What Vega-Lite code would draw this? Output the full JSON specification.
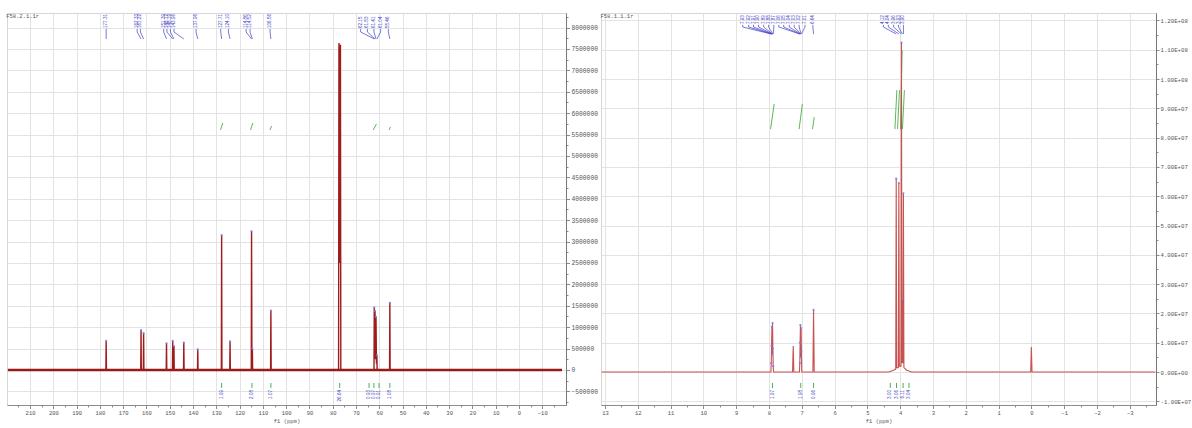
{
  "$schema": "https://vega.github.io/schema/vega-lite/v6.json",
  "background": "white",
  "padding": {"left": 4, "top": 12, "right": 0, "bottom": 0},
  "autosize": {"type": "pad"},
  "spacing": 35,
  "bounds": "flush",
  "config": {
    "view": {"stroke": "#d6d6d6", "strokeWidth": 1},
    "axis": {"labelFont": "Liberation Mono", "titleFont": "Liberation Mono", "labelColor": "#555555", "titleColor": "#555555", "titleFontWeight": "normal", "domainColor": "#8c8c8c", "tickColor": "#8c8c8c", "gridColor": "#e3e3e3", "gridWidth": 1, "labelOverlap": false, "labelFlush": false, "labelFontSize": 5.5, "titleFontSize": 5.5, "tickCount": 200},
    "text": {"font": "Liberation Sans"}
  },
  "datasets": {
    "c13": [
      {"ppm": 219.5, "i": 0},
      {"ppm": 177.43, "i": 0}, {"ppm": 177.31, "i": 680000}, {"ppm": 177.19, "i": 0},
      {"ppm": 162.45, "i": 0}, {"ppm": 162.33, "i": 930000}, {"ppm": 162.21, "i": 0},
      {"ppm": 161.34, "i": 0}, {"ppm": 161.22, "i": 860000}, {"ppm": 161.10, "i": 0},
      {"ppm": 151.51, "i": 0}, {"ppm": 151.39, "i": 620000}, {"ppm": 151.27, "i": 0},
      {"ppm": 148.84, "i": 0}, {"ppm": 148.72, "i": 680000}, {"ppm": 148.60, "i": 0},
      {"ppm": 148.31, "i": 0}, {"ppm": 148.19, "i": 560000}, {"ppm": 148.07, "i": 0},
      {"ppm": 144.08, "i": 0}, {"ppm": 143.96, "i": 640000}, {"ppm": 143.84, "i": 0},
      {"ppm": 138.08, "i": 0}, {"ppm": 137.96, "i": 480000}, {"ppm": 137.84, "i": 0},
      {"ppm": 127.83, "i": 0}, {"ppm": 127.71, "i": 3150000}, {"ppm": 127.59, "i": 0},
      {"ppm": 124.22, "i": 0}, {"ppm": 124.10, "i": 670000}, {"ppm": 123.98, "i": 0},
      {"ppm": 114.98, "i": 0}, {"ppm": 114.86, "i": 3240000}, {"ppm": 114.70, "i": 100000}, {"ppm": 114.52, "i": 500000}, {"ppm": 114.40, "i": 0},
      {"ppm": 106.68, "i": 0}, {"ppm": 106.56, "i": 1390000}, {"ppm": 106.44, "i": 0},
      {"ppm": 77.48, "i": 0}, {"ppm": 77.32, "i": 7640000}, {"ppm": 77.16, "i": 2500000}, {"ppm": 77.00, "i": 7550000}, {"ppm": 76.84, "i": 2500000}, {"ppm": 76.68, "i": 7600000}, {"ppm": 76.52, "i": 0},
      {"ppm": 62.27, "i": 0}, {"ppm": 62.15, "i": 1460000}, {"ppm": 61.99, "i": 300000}, {"ppm": 61.83, "i": 1380000}, {"ppm": 61.62, "i": 250000}, {"ppm": 61.41, "i": 1240000}, {"ppm": 61.22, "i": 150000}, {"ppm": 61.04, "i": 350000}, {"ppm": 60.92, "i": 0},
      {"ppm": 55.58, "i": 0}, {"ppm": 55.46, "i": 1570000}, {"ppm": 55.34, "i": 0},
      {"ppm": -18.5, "i": 0}
    ],
    "c13lab": [
      {"lab": "177.31", "lx": 177.3, "px": 177.31, "h": 680000},
      {"lab": "162.33", "lx": 164.0, "px": 162.33, "h": 930000},
      {"lab": "161.22", "lx": 162.6, "px": 161.22, "h": 860000},
      {"lab": "151.39", "lx": 152.6, "px": 151.39, "h": 620000},
      {"lab": "148.72", "lx": 151.2, "px": 148.72, "h": 680000},
      {"lab": "148.19", "lx": 149.7, "px": 148.19, "h": 560000},
      {"lab": "143.96", "lx": 148.2, "px": 143.96, "h": 640000},
      {"lab": "137.96", "lx": 138.7, "px": 137.96, "h": 480000},
      {"lab": "127.71", "lx": 128.1, "px": 127.71, "h": 3150000},
      {"lab": "124.10", "lx": 124.8, "px": 124.10, "h": 670000},
      {"lab": "114.86", "lx": 117.2, "px": 114.86, "h": 3240000},
      {"lab": "114.52", "lx": 115.5, "px": 114.52, "h": 500000},
      {"lab": "106.56", "lx": 106.9, "px": 106.56, "h": 1390000},
      {"lab": "62.15", "lx": 68.0, "px": 62.15, "h": 1460000},
      {"lab": "61.83", "lx": 65.1, "px": 61.83, "h": 1380000},
      {"lab": "61.41", "lx": 62.3, "px": 61.41, "h": 1240000},
      {"lab": "61.04", "lx": 59.4, "px": 61.04, "h": 350000},
      {"lab": "55.46", "lx": 56.1, "px": 55.46, "h": 1570000}
    ],
    "c13curve": [
      {"a": 128.2, "b": 127.2, "y1": 5607000, "y2": 5771000},
      {"a": 115.3, "b": 114.3, "y1": 5607000, "y2": 5771000},
      {"a": 107.0, "b": 106.2, "y1": 5607000, "y2": 5700000},
      {"a": 77.2, "b": 76.8, "y1": 5607000, "y2": 7600000},
      {"a": 62.6, "b": 61.2, "y1": 5607000, "y2": 5750000},
      {"a": 55.8, "b": 55.2, "y1": 5607000, "y2": 5680000}
    ],
    "c13itg": [
      {"lab": "1.99", "ppm": 127.71},
      {"lab": "2.08", "ppm": 114.7},
      {"lab": "1.07", "ppm": 106.56},
      {"lab": "26.64", "ppm": 77.0},
      {"lab": "0.93", "ppm": 64.4},
      {"lab": "0.97", "ppm": 62.3},
      {"lab": "0.91", "ppm": 60.1},
      {"lab": "1.08", "ppm": 55.46}
    ],
    "h1": [
      {"ppm": 13.1, "i": 0},
      {"ppm": 7.94, "i": 0}, {"ppm": 7.93, "i": 3000000}, {"ppm": 7.92, "i": 9000000}, {"ppm": 7.91, "i": 15500000}, {"ppm": 7.90, "i": 6000000}, {"ppm": 7.89, "i": 16700000}, {"ppm": 7.88, "i": 8000000}, {"ppm": 7.87, "i": 2000000}, {"ppm": 7.86, "i": 0},
      {"ppm": 7.28, "i": 0}, {"ppm": 7.26, "i": 8900000}, {"ppm": 7.24, "i": 0},
      {"ppm": 7.07, "i": 0}, {"ppm": 7.06, "i": 3000000}, {"ppm": 7.05, "i": 10000000}, {"ppm": 7.04, "i": 16000000}, {"ppm": 7.03, "i": 5000000}, {"ppm": 7.02, "i": 15000000}, {"ppm": 7.01, "i": 7000000}, {"ppm": 7.00, "i": 0},
      {"ppm": 6.66, "i": 0}, {"ppm": 6.64, "i": 21200000}, {"ppm": 6.62, "i": 0},
      {"ppm": 4.35, "i": 0}, {"ppm": 4.2, "i": 600000}, {"ppm": 4.135, "i": 1000000}, {"ppm": 4.12, "i": 66000000}, {"ppm": 4.105, "i": 1500000}, {"ppm": 4.055, "i": 1500000}, {"ppm": 4.04, "i": 64500000}, {"ppm": 4.025, "i": 2000000}, {"ppm": 3.975, "i": 2000000}, {"ppm": 3.96, "i": 112400000}, {"ppm": 3.945, "i": 3000000}, {"ppm": 3.93, "i": 25000000}, {"ppm": 3.915, "i": 3000000}, {"ppm": 3.90, "i": 61000000}, {"ppm": 3.885, "i": 1500000}, {"ppm": 3.8, "i": 600000}, {"ppm": 3.65, "i": 0},
      {"ppm": 0.02, "i": 0}, {"ppm": 0.0, "i": 8500000}, {"ppm": -0.02, "i": 0},
      {"ppm": -3.78, "i": 0}
    ],
    "h1lab": [
      {"lab": "7.93", "lx": 8.80, "px": 7.93, "h": 3000000},
      {"lab": "7.92", "lx": 8.62, "px": 7.92, "h": 9000000},
      {"lab": "7.91", "lx": 8.47, "px": 7.91, "h": 15500000},
      {"lab": "7.90", "lx": 8.32, "px": 7.90, "h": 6000000},
      {"lab": "7.89", "lx": 8.16, "px": 7.89, "h": 16700000},
      {"lab": "7.88", "lx": 8.01, "px": 7.88, "h": 8000000},
      {"lab": "7.87", "lx": 7.85, "px": 7.87, "h": 2000000},
      {"lab": "7.06", "lx": 7.70, "px": 7.06, "h": 3000000},
      {"lab": "7.05", "lx": 7.55, "px": 7.05, "h": 10000000},
      {"lab": "7.04", "lx": 7.38, "px": 7.04, "h": 16000000},
      {"lab": "7.03", "lx": 7.23, "px": 7.03, "h": 5000000},
      {"lab": "7.02", "lx": 7.08, "px": 7.02, "h": 15000000},
      {"lab": "7.01", "lx": 6.90, "px": 7.01, "h": 7000000},
      {"lab": "6.64", "lx": 6.66, "px": 6.64, "h": 21200000},
      {"lab": "4.12", "lx": 4.51, "px": 4.12, "h": 66000000},
      {"lab": "4.04", "lx": 4.36, "px": 4.04, "h": 64500000},
      {"lab": "3.96", "lx": 4.20, "px": 3.96, "h": 112400000},
      {"lab": "3.93", "lx": 4.05, "px": 3.93, "h": 25000000},
      {"lab": "3.90", "lx": 3.90, "px": 3.90, "h": 61000000}
    ],
    "h1curve": [
      {"a": 7.95, "b": 7.84, "y1": 82900000, "y2": 91500000},
      {"a": 7.08, "b": 6.98, "y1": 82900000, "y2": 91500000},
      {"a": 6.67, "b": 6.62, "y1": 82900000, "y2": 87000000},
      {"a": 4.16, "b": 4.10, "y1": 82900000, "y2": 96200000},
      {"a": 4.08, "b": 4.02, "y1": 82900000, "y2": 96200000},
      {"a": 3.99, "b": 3.94, "y1": 82900000, "y2": 109900000},
      {"a": 3.93, "b": 3.87, "y1": 82900000, "y2": 96200000}
    ],
    "h1itg": [
      {"lab": "1.97", "ppm": 7.89},
      {"lab": "1.98", "ppm": 7.03},
      {"lab": "0.96", "ppm": 6.64},
      {"lab": "3.00", "ppm": 4.30},
      {"lab": "3.06", "ppm": 4.11},
      {"lab": "6.11", "ppm": 3.91},
      {"lab": "3.04", "ppm": 3.73}
    ]
  },
  "hconcat": [
    {
      "width": 559,
      "height": 392,
      "title": {"text": "F58.2.1.1r", "anchor": "start", "offset": -6, "dx": 1, "fontSize": 5.5, "font": "Liberation Mono", "fontWeight": "normal", "color": "#555555"},
      "layer": [
        {
          "data": {"name": "c13curve"},
          "mark": {"type": "rule", "color": "#5cb85c", "strokeWidth": 1},
          "encoding": {
            "x": {"field": "a", "type": "quantitative", "scale": {"domain": [-20.2, 219.9], "reverse": true, "nice": false, "zero": false},
              "axis": {"title": "f1 (ppm)", "format": "d", "tickCount": 200, "values": [215, 210, 205, 200, 195, 190, 185, 180, 175, 170, 165, 160, 155, 150, 145, 140, 135, 130, 125, 120, 115, 110, 105, 100, 95, 90, 85, 80, 75, 70, 65, 60, 55, 50, 45, 40, 35, 30, 25, 20, 15, 10, 5, 0, -5, -10, -15],
                "grid": true, "gridOpacity": {"condition": {"test": "datum.value % 10 === 0", "value": 1}, "value": 0},
                "tickSize": {"condition": {"test": "datum.value % 10 === 0", "value": 3.5}, "value": 2},
                "labelExpr": "datum.value % 10 === 0 ? datum.label : ''", "labelPadding": 1.5, "titlePadding": 3}},
            "x2": {"field": "b"},
            "y": {"field": "y1", "type": "quantitative", "scale": {"domain": [-818000, 8341000], "nice": false, "zero": false},
              "axis": {"orient": "right", "title": null, "format": "d", "tickCount": 200, "values": [-750000, -500000, -250000, 0, 250000, 500000, 750000, 1000000, 1250000, 1500000, 1750000, 2000000, 2250000, 2500000, 2750000, 3000000, 3250000, 3500000, 3750000, 4000000, 4250000, 4500000, 4750000, 5000000, 5250000, 5500000, 5750000, 6000000, 6250000, 6500000, 6750000, 7000000, 7250000, 7500000, 7750000, 8000000, 8250000],
                "grid": true, "gridOpacity": {"condition": {"test": "datum.value % 500000 === 0", "value": 1}, "value": 0},
                "tickSize": {"condition": {"test": "datum.value % 500000 === 0", "value": 3.5}, "value": 2},
                "labelExpr": "datum.value % 500000 === 0 ? datum.label : ''", "labelFontSize": 6.3, "labelPadding": 1.5, "domainColor": "#777777"}},
            "y2": {"field": "y2"}
          }
        },
        {
          "data": {"values": [{}]},
          "mark": {"type": "rule", "color": "#8f1717", "strokeWidth": 2.6},
          "encoding": {
            "x": {"datum": 219.5, "type": "quantitative"},
            "x2": {"datum": -18.5},
            "y": {"datum": 0, "type": "quantitative"}
          }
        },
        {
          "data": {"name": "c13"},
          "mark": {"type": "line", "color": "#9e1c1c", "strokeWidth": 1.4},
          "encoding": {
            "x": {"field": "ppm", "type": "quantitative"},
            "y": {"field": "i", "type": "quantitative"}
          }
        },
        {
          "data": {"name": "c13lab"},
          "mark": {"type": "point", "filled": true, "size": 5, "color": "#7c7ce6", "opacity": 0.9},
          "encoding": {
            "x": {"field": "px", "type": "quantitative"},
            "y": {"field": "h", "type": "quantitative"}
          }
        },
        {
          "data": {"name": "c13lab"},
          "mark": {"type": "text", "angle": 270, "align": "left", "baseline": "middle", "fontSize": 4.6, "color": "#4141c4"},
          "encoding": {
            "x": {"field": "lx", "type": "quantitative"},
            "y": {"datum": 7990000, "type": "quantitative"},
            "text": {"field": "lab"}
          }
        },
        {
          "data": {"name": "c13lab"},
          "mark": {"type": "rule", "color": "#4141c4", "strokeWidth": 0.7},
          "encoding": {
            "x": {"field": "lx", "type": "quantitative"},
            "y": {"datum": 7970000, "type": "quantitative"},
            "y2": {"datum": 7897000}
          }
        },
        {
          "data": {"name": "c13lab"},
          "mark": {"type": "rule", "color": "#4141c4", "strokeWidth": 0.7},
          "encoding": {
            "x": {"field": "lx", "type": "quantitative"},
            "x2": {"field": "px"},
            "y": {"datum": 7897000, "type": "quantitative"},
            "y2": {"datum": 7734000}
          }
        },
        {
          "data": {"name": "c13itg"},
          "mark": {"type": "rule", "color": "#4caf50", "strokeWidth": 1},
          "encoding": {
            "x": {"field": "ppm", "type": "quantitative"},
            "y": {"datum": -304000, "type": "quantitative"},
            "y2": {"datum": -420000}
          }
        },
        {
          "data": {"name": "c13itg"},
          "mark": {"type": "text", "angle": 270, "align": "right", "baseline": "middle", "fontSize": 4.6, "color": "#4141c4"},
          "encoding": {
            "x": {"field": "ppm", "type": "quantitative"},
            "y": {"datum": -467000, "type": "quantitative"},
            "text": {"field": "lab"}
          }
        }
      ]
    },
    {
      "width": 555,
      "height": 392,
      "title": {"text": "F58.1.1.1r", "anchor": "start", "offset": -6, "dx": 1, "fontSize": 5.5, "font": "Liberation Mono", "fontWeight": "normal", "color": "#555555"},
      "layer": [
        {
          "data": {"name": "h1curve"},
          "mark": {"type": "rule", "color": "#5cb85c", "strokeWidth": 1},
          "encoding": {
            "x": {"field": "a", "type": "quantitative", "scale": {"domain": [-3.8, 13.12], "reverse": true, "nice": false, "zero": false},
              "axis": {"title": "f1 (ppm)", "tickCount": 200, "values": [13, 12.5, 12, 11.5, 11, 10.5, 10, 9.5, 9, 8.5, 8, 7.5, 7, 6.5, 6, 5.5, 5, 4.5, 4, 3.5, 3, 2.5, 2, 1.5, 1, 0.5, 0, -0.5, -1, -1.5, -2, -2.5, -3, -3.5],
                "grid": true, "gridOpacity": {"condition": {"test": "abs(datum.value - round(datum.value)) < 0.01", "value": 1}, "value": 0},
                "tickSize": {"condition": {"test": "abs(datum.value - round(datum.value)) < 0.01", "value": 3.5}, "value": 2},
                "labelExpr": "abs(datum.value - round(datum.value)) < 0.01 ? format(round(datum.value), 'd') : ''", "labelPadding": 1.5, "titlePadding": 3}},
            "x2": {"field": "b"},
            "y": {"field": "y1", "type": "quantitative", "scale": {"domain": [-11260000, 122530000], "nice": false, "zero": false},
              "axis": {"orient": "right", "title": null, "tickCount": 200, "values": [-10000000, -5000000, 0, 5000000, 10000000, 15000000, 20000000, 25000000, 30000000, 35000000, 40000000, 45000000, 50000000, 55000000, 60000000, 65000000, 70000000, 75000000, 80000000, 85000000, 90000000, 95000000, 100000000, 105000000, 110000000, 115000000, 120000000],
                "grid": true, "gridOpacity": {"condition": {"test": "datum.value % 10000000 === 0", "value": 1}, "value": 0},
                "tickSize": {"condition": {"test": "datum.value % 10000000 === 0", "value": 3}, "value": 2},
                "labelExpr": "datum.value % 10000000 !== 0 ? '' : datum.value === 0 ? '0.00E+00' : datum.value < 0 ? '-1.00E+07' : datum.value >= 100000000 ? format(datum.value / 100000000, '.2f') + 'E+08' : format(datum.value / 10000000, '.2f') + 'E+07'",
                "labelFontSize": 5.7, "labelPadding": 1, "domainColor": "#777777"}},
            "y2": {"field": "y2"}
          }
        },
        {
          "data": {"name": "h1"},
          "mark": {"type": "line", "color": "#c8524f", "strokeWidth": 1.1},
          "encoding": {
            "x": {"field": "ppm", "type": "quantitative"},
            "y": {"field": "i", "type": "quantitative"}
          }
        },
        {
          "data": {"name": "h1lab"},
          "mark": {"type": "point", "filled": true, "size": 5, "color": "#7c7ce6", "opacity": 0.9},
          "encoding": {
            "x": {"field": "px", "type": "quantitative"},
            "y": {"field": "h", "type": "quantitative"}
          }
        },
        {
          "data": {"name": "h1lab"},
          "mark": {"type": "text", "angle": 270, "align": "left", "baseline": "middle", "fontSize": 4.6, "color": "#4141c4"},
          "encoding": {
            "x": {"field": "lx", "type": "quantitative"},
            "y": {"datum": 118770000, "type": "quantitative"},
            "text": {"field": "lab"}
          }
        },
        {
          "data": {"name": "h1lab"},
          "mark": {"type": "rule", "color": "#4141c4", "strokeWidth": 0.7},
          "encoding": {
            "x": {"field": "lx", "type": "quantitative"},
            "y": {"datum": 118500000, "type": "quantitative"},
            "y2": {"datum": 117750000}
          }
        },
        {
          "data": {"name": "h1lab"},
          "mark": {"type": "rule", "color": "#4141c4", "strokeWidth": 0.7},
          "encoding": {
            "x": {"field": "lx", "type": "quantitative"},
            "x2": {"field": "px"},
            "y": {"datum": 117750000, "type": "quantitative"},
            "y2": {"datum": 115360000}
          }
        },
        {
          "data": {"name": "h1itg"},
          "mark": {"type": "rule", "color": "#4caf50", "strokeWidth": 1},
          "encoding": {
            "x": {"field": "ppm", "type": "quantitative"},
            "y": {"datum": -3750000, "type": "quantitative"},
            "y2": {"datum": -5460000}
          }
        },
        {
          "data": {"name": "h1itg"},
          "mark": {"type": "text", "angle": 270, "align": "right", "baseline": "middle", "fontSize": 4.6, "color": "#4141c4"},
          "encoding": {
            "x": {"field": "ppm", "type": "quantitative"},
            "y": {"datum": -6140000, "type": "quantitative"},
            "text": {"field": "lab"}
          }
        }
      ]
    }
  ]
}
